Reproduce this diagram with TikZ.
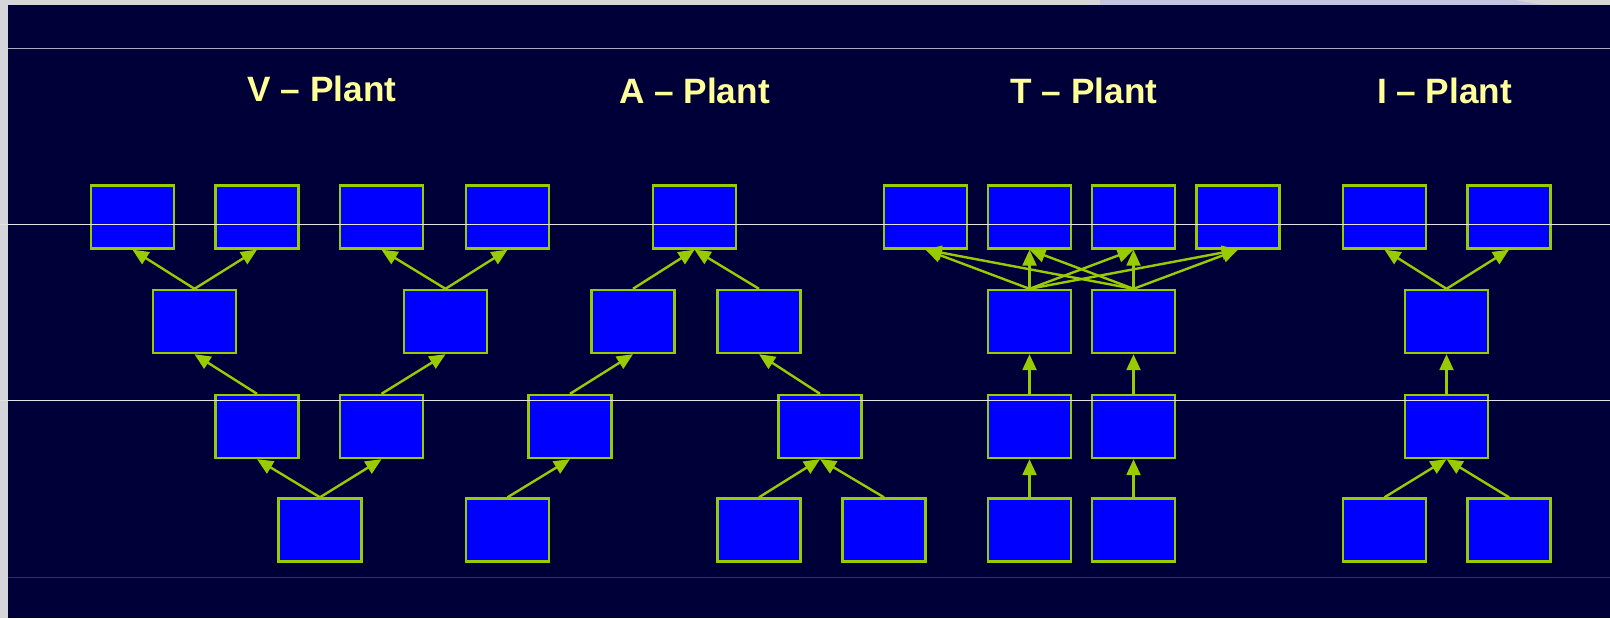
\documentclass[tikz,border=0pt]{standalone}
\usepackage{fontspec}
\setmainfont{Liberation Sans}
\usetikzlibrary{arrows.meta}
\definecolor{bgnavy}{RGB}{0,0,56}
\definecolor{framegray}{RGB}{213,213,218}
\definecolor{framelav}{RGB}{196,196,224}
\definecolor{boxblue}{RGB}{0,0,255}
\definecolor{edgegreen}{RGB}{153,204,0}
\definecolor{titleyellow}{RGB}{255,255,153}
\definecolor{rulegray}{RGB}{170,170,190}
\definecolor{rulewhite}{RGB}{225,225,230}
\definecolor{rulepurple}{RGB}{50,42,110}
\tikzstyle{blk}=[shape=rectangle, minimum width=41.5pt, minimum height=31.5pt, inner sep=0, fill=boxblue, draw=edgegreen, line width=1.2pt]
\tikzstyle{arr}=[-{Triangle[length=8pt,width=7pt]}, draw=edgegreen, fill=edgegreen, line width=1.2pt]
\tikzstyle{ttl}=[text=titleyellow, font=\bfseries\fontsize{17.6}{20}\selectfont, anchor=base, inner sep=0]

\begin{document}
\begin{tikzpicture}[x=0.5pt, y=-0.5pt]
\useasboundingbox (0,0) rectangle (1610,618);
% slide frame and background
\fill[framegray] (0,0) rectangle (1610,618);
\fill[framelav] (1100,0) -- (1515,0) .. controls (1525,2) and (1535,4) .. (1545,5) -- (1100,5) -- cycle;
\fill[bgnavy] (8,5) rectangle (1610,618);
\draw[rulegray, line width=0.5pt] (8,48)--(1610,48);
\draw[rulepurple, line width=0.5pt] (8,577)--(1610,577);

% titles
\node at (322,101)[ttl](vt){V -- Plant};
\node at (694.5,103)[ttl](at){A -- Plant};
\node at (1084,103)[ttl](tt){T -- Plant};
\node at (1444.5,103)[ttl](it){I -- Plant};

% V plant
\node at (132.5,217)[blk](v1){};
\node at (257,217)[blk](v2){};
\node at (381.5,217)[blk](v3){};
\node at (507.5,217)[blk](v4){};
\node at (194.5,321.5)[blk](v5){};
\node at (445.5,321.5)[blk](v6){};
\node at (257,426.5)[blk](v7){};
\node at (381.5,426.5)[blk](v8){};
\node at (320,530)[blk](v9){};
\draw[arr] (v5.north)--(v1.south);
\draw[arr] (v5.north)--(v2.south);
\draw[arr] (v6.north)--(v3.south);
\draw[arr] (v6.north)--(v4.south);
\draw[arr] (v7.north)--(v5.south);
\draw[arr] (v8.north)--(v6.south);
\draw[arr] (v9.north)--(v7.south);
\draw[arr] (v9.north)--(v8.south);

% A plant
\node at (694.5,217)[blk](a1){};
\node at (633,321.5)[blk](a2){};
\node at (759,321.5)[blk](a3){};
\node at (570,426.5)[blk](a4){};
\node at (820,426.5)[blk](a5){};
\node at (507.5,530)[blk](a6){};
\node at (759,530)[blk](a7){};
\node at (884,530)[blk](a8){};
\draw[arr] (a2.north)--(a1.south);
\draw[arr] (a3.north)--(a1.south);
\draw[arr] (a4.north)--(a2.south);
\draw[arr] (a5.north)--(a3.south);
\draw[arr] (a6.north)--(a4.south);
\draw[arr] (a7.north)--(a5.south);
\draw[arr] (a8.north)--(a5.south);

% T plant
\node at (925.5,217)[blk](t1){};
\node at (1029.5,217)[blk](t2){};
\node at (1133.5,217)[blk](t3){};
\node at (1238,217)[blk](t4){};
\node at (1029.5,321.5)[blk](t5){};
\node at (1133.5,321.5)[blk](t6){};
\node at (1029.5,426.5)[blk](t7){};
\node at (1133.5,426.5)[blk](t8){};
\node at (1029.5,530)[blk](t9){};
\node at (1133.5,530)[blk](t10){};
\foreach \s in {t5,t6}
  \foreach \e in {t1,t2,t3,t4}
    \draw[arr] (\s.north)--(\e.south);
\draw[arr] (t7.north)--(t5.south);
\draw[arr] (t8.north)--(t6.south);
\draw[arr] (t9.north)--(t7.south);
\draw[arr] (t10.north)--(t8.south);

% I plant
\node at (1384.5,217)[blk](i1){};
\node at (1509,217)[blk](i2){};
\node at (1446.5,321.5)[blk](i3){};
\node at (1446.5,426.5)[blk](i4){};
\node at (1384.5,530)[blk](i5){};
\node at (1509,530)[blk](i6){};
\draw[arr] (i3.north)--(i1.south);
\draw[arr] (i3.north)--(i2.south);
\draw[arr] (i4.north)--(i3.south);
\draw[arr] (i5.north)--(i4.south);
\draw[arr] (i6.north)--(i4.south);

% guide rules over the boxes
\draw[rulewhite, line width=0.5pt] (0,224)--(1610,224);
\draw[rulewhite, line width=0.5pt] (0,400)--(1610,400);
\end{tikzpicture}
\end{document}
